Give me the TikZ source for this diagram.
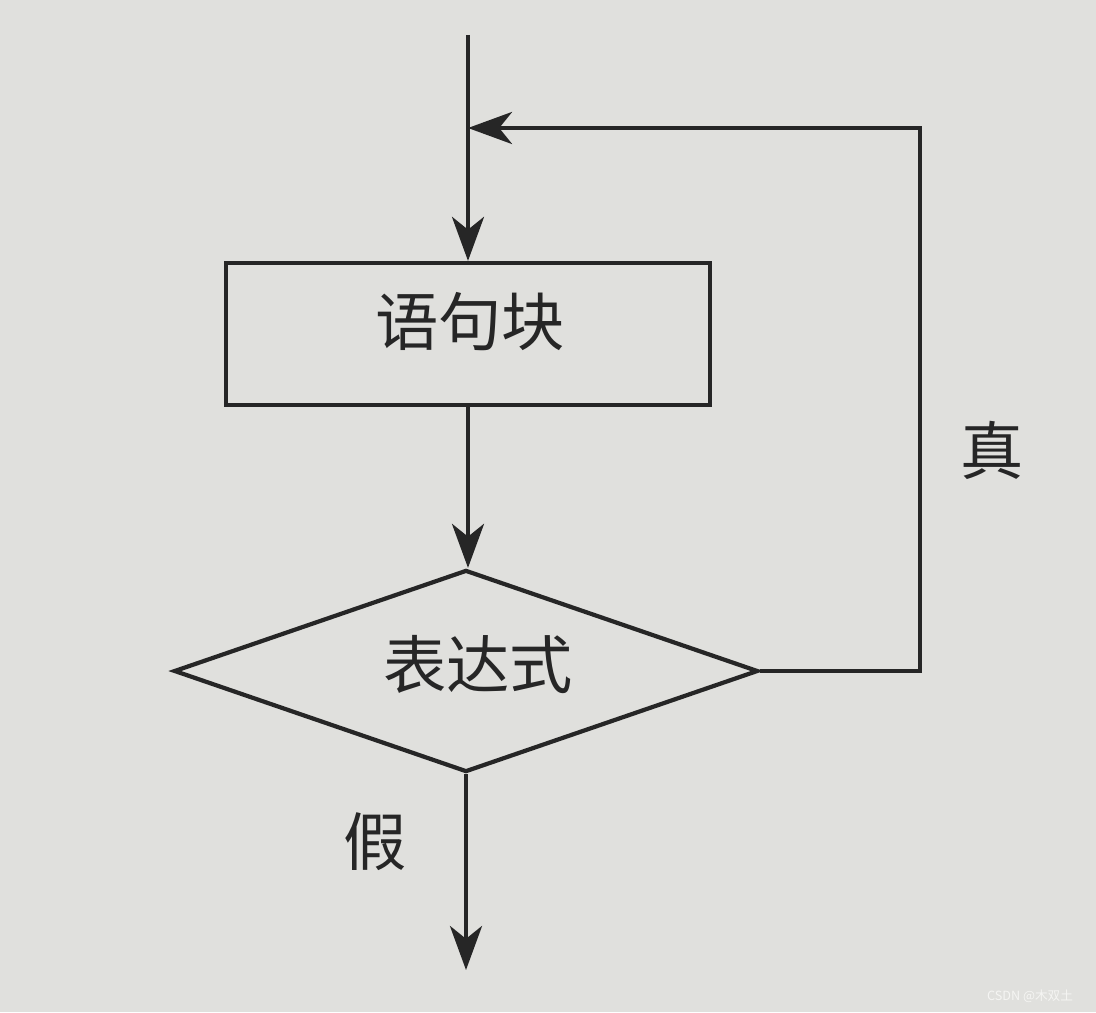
\documentclass[tikz,border=0pt]{standalone}
\usepackage{fontspec}
\newfontfamily\cjk{Noto Sans CJK SC}
\usetikzlibrary{
    positioning,
    arrows.meta,
    calc,
    shapes.geometric
}
\definecolor{paper}{RGB}{224,224,221}
\definecolor{ink}{RGB}{38,38,38}
\definecolor{mark}{RGB}{245,245,243}

\begin{document}
\begin{tikzpicture}[
    x=0.025cm, y=-0.025cm,
    block/.style={
        draw=ink, rectangle, line width=3pt, minimum height=3.55cm,
        minimum width=12.1cm, inner sep=0pt, align=center
    },
    cond/.style={
        draw=ink, diamond, line width=3pt, aspect=2.9, inner sep=0pt,
        minimum width=14.6cm, minimum height=5.05cm, align=center
    },
    label/.style={text=ink, font=\cjk\fontsize{45}{50}\selectfont},
    arrow/.style={draw=ink, line width=3pt,
        -{Stealth[length=1.1cm, width=0.8cm, inset=0.32cm]}},
    line/.style={draw=ink, line width=3pt}
]

% Background (photo paper)
\fill[paper] (0,0) rectangle (1096,1012);
\useasboundingbox (0,0) rectangle (1096,1012);

% Nodes
\node[block] (body) at (468,334) {};
\node[label] (body_text) at (470,322) {语句块};
\node[cond] (test) at (466,671) {};
\node[label] (test_text) at (478,665) {表达式};

% Free ends of connectors
\coordinate (entry) at (468,35);
\coordinate (join) at (468,128);
\coordinate (loop_x) at (920,128);
\coordinate (exit) at (466,970);

% Data flow
\draw[line] (entry) -- (join);
\draw[arrow] (join) -- (body.north);
\draw[arrow] (body.south) -- (body.south |- test.north);
\draw[arrow] (test.east) -- (test.east -| loop_x) -- (loop_x) -- (join);
\draw[arrow] (test.south) -- (exit);

% Branch labels
\node[label] (true_text) at (992,450) {真};
\node[label] (false_text) at (375,842) {假};

% Watermark
\node[text=mark, font=\cjk\fontsize{9}{10}\selectfont] (wm) at (1030,996) {CSDN @木双土};

\end{tikzpicture}
\end{document}
